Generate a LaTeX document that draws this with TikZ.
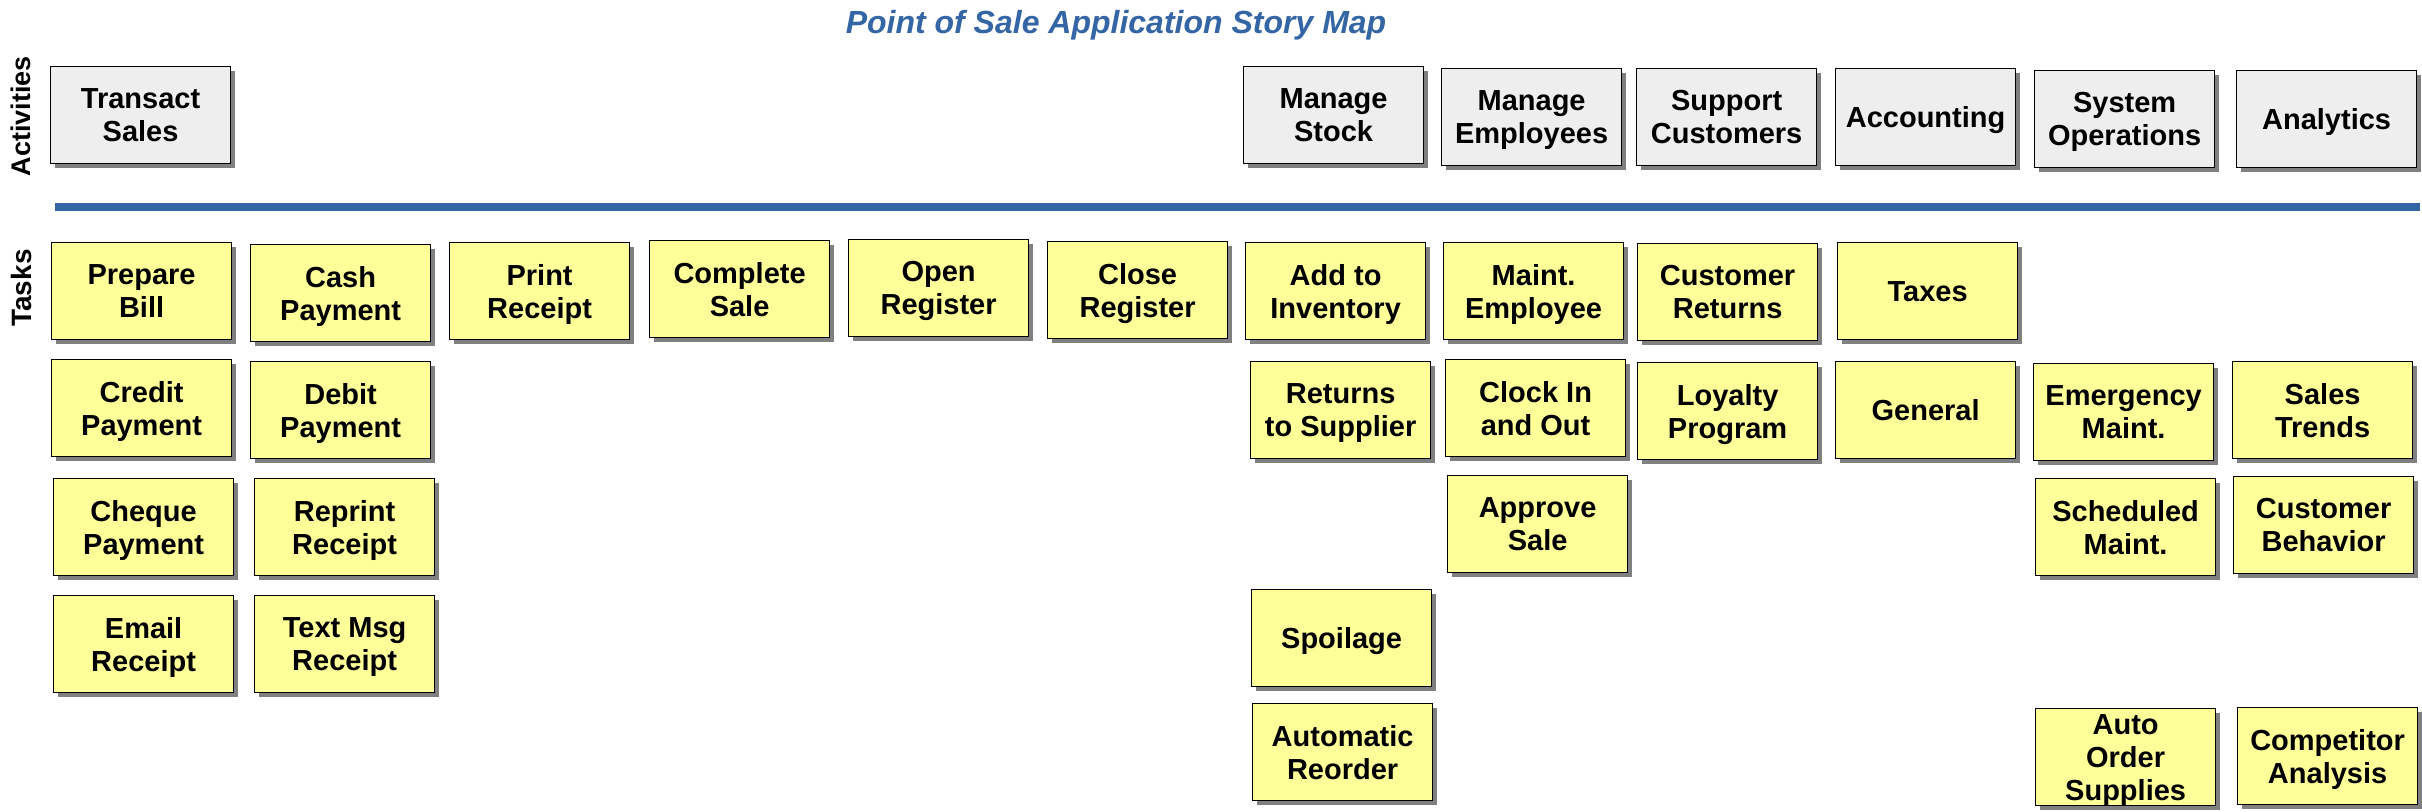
\documentclass[tikz,border=0pt]{standalone}
\usepackage{fontspec}
\setmainfont{Liberation Sans}
\usetikzlibrary{shadows}
\definecolor{titleblue}{HTML}{3465A4}
\definecolor{actfill}{HTML}{EEEEEE}
\definecolor{taskfill}{HTML}{FFFF99}
\definecolor{shadowgray}{HTML}{808080}
\begin{document}
\begin{tikzpicture}[x=0.5pt,y=-0.5pt,
  card/.style={draw=black, line width=0.6pt, anchor=north west,
    minimum width=90pt, minimum height=48.5pt, inner sep=0pt, align=center,
    font=\bfseries\fontsize{14.5}{16.5}\selectfont, text depth=0pt,
    drop shadow={shadow xshift=2pt, shadow yshift=-2pt, fill=shadowgray, opacity=1}},
  activity/.style={card, fill=actfill},
  task/.style={card, fill=taskfill},
  sidelabel/.style={rotate=90, font=\bfseries\fontsize{13.5}{16}\selectfont},
  titletext/.style={anchor=base, text=titleblue, font=\bfseries\itshape\fontsize{16}{19}\selectfont}]
\useasboundingbox[fill=white] (0,0) rectangle (2422,811);

% title
\node[titletext] (title) at (1116,33) {Point of Sale Application Story Map};

% side labels
\node[sidelabel] (actlabel) at (21,116) {Activities};
\node[sidelabel, font=\bfseries\fontsize{14}{16}\selectfont] (tasklabel) at (21,288) {Tasks};

% separator
\coordinate (sepL) at (55,207);
\coordinate (sepR) at (2420,207);
\draw[line width=4pt, titleblue] (sepL) -- (sepR);

% activities
\node[activity] (a1) at (50,66) {Transact\\Sales};
\node[activity] (a2) at (1243,66) {Manage\\Stock};
\node[activity] (a3) at (1441,68) {Manage\\Employees};
\node[activity] (a4) at (1636,68) {Support\\Customers};
\node[activity] (a5) at (1835,68) {Accounting};
\node[activity] (a6) at (2034,70) {System\\Operations};
\node[activity] (a7) at (2236,70) {Analytics};

% tasks row 1
\node[task] (t11) at (51,242) {Prepare\\Bill};
\node[task] (t12) at (250,244) {Cash\\Payment};
\node[task] (t13) at (449,242) {Print\\Receipt};
\node[task] (t14) at (649,240) {Complete\\Sale};
\node[task] (t15) at (848,239) {Open\\Register};
\node[task] (t16) at (1047,241) {Close\\Register};
\node[task] (t17) at (1245,242) {Add to\\Inventory};
\node[task] (t18) at (1443,242) {Maint.\\Employee};
\node[task] (t19) at (1637,243) {Customer\\Returns};
\node[task] (t1a) at (1837,242) {Taxes};

% tasks row 2
\node[task] (t21) at (51,359) {Credit\\Payment};
\node[task] (t22) at (250,361) {Debit\\Payment};
\node[task] (t27) at (1250,361) {Returns\\to Supplier};
\node[task] (t28) at (1445,359) {Clock In\\and Out};
\node[task] (t29) at (1637,362) {Loyalty\\Program};
\node[task] (t2a) at (1835,361) {General};
\node[task] (t2b) at (2033,363) {Emergency\\Maint.};
\node[task] (t2c) at (2232,361) {Sales\\Trends};

% tasks row 3
\node[task] (t31) at (53,478) {Cheque\\Payment};
\node[task] (t32) at (254,478) {Reprint\\Receipt};
\node[task] (t38) at (1447,475) {Approve\\Sale};
\node[task] (t3b) at (2035,478) {Scheduled\\Maint.};
\node[task] (t3c) at (2233,476) {Customer\\Behavior};

% tasks row 4
\node[task] (t41) at (53,595) {Email\\Receipt};
\node[task] (t42) at (254,595) {Text Msg\\Receipt};
\node[task] (t47) at (1251,589) {Spoilage};

% tasks row 5
\node[task] (t57) at (1252,703) {Automatic\\Reorder};
\node[task] (t5b) at (2035,708) {Auto\\Order\\Supplies};
\node[task] (t5c) at (2237,707) {Competitor\\Analysis};
\end{tikzpicture}
\end{document}
